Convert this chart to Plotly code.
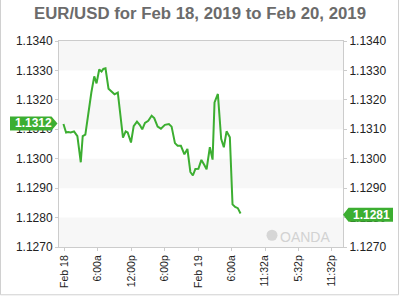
import plotly.graph_objects as go

# hours since Feb 18, 2019 00:00
hours = [-0.2, 0.27, 0.63, 1.11, 1.70, 2.30, 2.91, 3.26, 3.73, 4.09, 4.81, 5.33, 5.74, 6.22,
         6.64, 6.96, 7.35, 7.89, 8.46, 8.97, 9.56, 10.49, 10.97, 11.33, 11.93, 12.41, 13.00,
         13.49, 13.95, 14.44, 15.03, 15.64, 16.10, 16.71, 17.30, 18.02, 18.74, 19.22, 19.82,
         20.30, 20.89, 21.52, 22.06, 22.59, 23.04, 23.49, 24.03, 24.57, 25.05, 25.50, 26.09,
         26.58, 26.93, 27.53, 28.12, 28.60, 29.09, 29.68, 30.16, 30.63, 31.11, 31.60]
prices = [1.13118, 1.13089, 1.13091, 1.13089, 1.13093, 1.13077, 1.12988, 1.13077, 1.13082,
          1.13135, 1.13225, 1.13280, 1.13256, 1.13303, 1.13296, 1.13305, 1.13307, 1.13238,
          1.13227, 1.13219, 1.13225, 1.13072, 1.13093, 1.13089, 1.13055, 1.13111, 1.13126,
          1.13115, 1.13100, 1.13122, 1.13129, 1.13146, 1.13138, 1.13109, 1.13102, 1.13115,
          1.13118, 1.13109, 1.13053, 1.13044, 1.13044, 1.13015, 1.13033, 1.12955, 1.12943,
          1.12965, 1.12966, 1.12996, 1.12980, 1.12964, 1.13039, 1.12997, 1.13191, 1.13220,
          1.13068, 1.13039, 1.13093, 1.13073, 1.12845, 1.12836, 1.12832, 1.12814]

x_tickvals = [0, 6, 12, 18, 24, 30, 36, 42, 48]
x_ticktext = ["Feb 18", "6:00a", "12:00p", "6:00p", "Feb 19", "6:00a", "11:32a", "5:32p", "11:32p"]
y_ticks = [1.1270, 1.1280, 1.1290, 1.1300, 1.1310, 1.1320, 1.1330, 1.1340]
open_label = 1.1312
last_label = 1.1281

GREEN = "#3cae31"
AXC = "#cccccc"

fig = go.Figure()
fig.add_trace(go.Scatter(x=hours, y=prices, mode="lines",
                         line=dict(color=GREEN, width=2), hoverinfo="skip", showlegend=False))
fig.add_trace(go.Scatter(x=hours, y=prices, mode="lines", yaxis="y2",
                         line=dict(color="rgba(0,0,0,0)", width=0), hoverinfo="skip", showlegend=False))

shapes = []
# alternating bands
for i in range(0, len(y_ticks) - 1, 2):
    shapes.append(dict(type="rect", xref="paper", yref="y", x0=0, x1=1,
                       y0=y_ticks[i], y1=y_ticks[i + 1], fillcolor="#f7f7f7",
                       line=dict(width=0), layer="below"))
# price tags
shapes.append(dict(type="path", xref="paper", yref="y", xsizemode="pixel", ysizemode="pixel",
                   xanchor=0, yanchor=open_label,
                   path="M -49,7 L -7.5,7 L -1.5,0 L -7.5,-7 L -49,-7 Z",
                   fillcolor=GREEN, line=dict(width=0)))
shapes.append(dict(type="path", xref="paper", yref="y", xsizemode="pixel", ysizemode="pixel",
                   xanchor=1, yanchor=last_label,
                   path="M 0,0 L 5.5,7 L 50,7 L 50,-7 L 5.5,-7 Z",
                   fillcolor=GREEN, line=dict(width=0)))
# outer border (left, right, bottom)
bl, br, bb, bt = -0.206, 1.1954, -0.232, 1.2
shapes.append(dict(type="line", xref="paper", yref="paper", x0=bl, x1=bl, y0=bb, y1=bt,
                   line=dict(color="#d0d0d0", width=1)))
shapes.append(dict(type="line", xref="paper", yref="paper", x0=br, x1=br, y0=bb, y1=bt,
                   line=dict(color="#d0d0d0", width=1)))
shapes.append(dict(type="line", xref="paper", yref="paper", x0=bl, x1=br, y0=bb, y1=bb,
                   line=dict(color="#d0d0d0", width=1)))
# watermark icon
shapes.append(dict(type="circle", xref="paper", yref="paper", xsizemode="pixel", ysizemode="pixel",
                   xanchor=0.75, yanchor=0.057, x0=-5.5, x1=5.5, y0=-5.5, y1=5.5,
                   fillcolor="#d6d6d6", line=dict(width=0)))

annotations = [
    dict(xref="paper", yref="y", x=-0.0915, y=open_label, text="<b>1.1312</b>", showarrow=False,
         font=dict(family="Liberation Sans, Arial", size=12, color="white"), xanchor="center", yanchor="middle"),
    dict(xref="paper", yref="y", x=(371.5 - 59) / 284, y=last_label, text="<b>1.1281</b>", showarrow=False,
         font=dict(family="Liberation Sans, Arial", size=12, color="white"), xanchor="center", yanchor="middle"),
    dict(xref="paper", yref="paper", x=0.866, y=0.048, text="OANDA", showarrow=False,
         font=dict(family="Liberation Sans, Arial", size=14, color="#d2d2d2"), xanchor="center", yanchor="middle"),
]

axis_font = dict(family="Liberation Sans, Arial", size=12, color="#222222")
fig.update_layout(
    width=400, height=300,
    margin=dict(l=59, r=57, t=41, b=50),
    paper_bgcolor="white", plot_bgcolor="white",
    title=dict(text="<b>EUR/USD for Feb 18, 2019 to Feb 20, 2019</b>", x=0.5, xref="container",
               y=1 - 13 / 300, yref="container", xanchor="center", yanchor="middle",
               font=dict(family="Liberation Sans, Arial", size=16.8, color="#6b6b6b")),
    xaxis=dict(range=[-1, 50], tickmode="array", tickvals=x_tickvals, ticktext=x_ticktext,
               tickangle=-90, ticks="outside", ticklen=3, tickcolor=AXC, showgrid=False, zeroline=False,
               showline=True, linecolor=AXC, mirror=True,
               tickfont=dict(family="Liberation Sans, Arial", size=10.5, color="#222222")),
    yaxis=dict(range=[1.1270, 1.1340], tickmode="array", tickvals=y_ticks, tickformat=".4f",
               ticks="outside", ticklen=3, tickcolor=AXC, showgrid=False, zeroline=False,
               showline=True, linecolor=AXC, mirror=True, tickfont=axis_font),
    yaxis2=dict(range=[1.1270, 1.1340], overlaying="y", side="right", tickmode="array",
                tickvals=y_ticks, tickformat=".4f", ticks="outside", ticklen=3, tickcolor=AXC,
                showgrid=False, zeroline=False, showline=False, tickfont=axis_font),
    shapes=shapes, annotations=annotations,
)

fig.write_html("out.html")
